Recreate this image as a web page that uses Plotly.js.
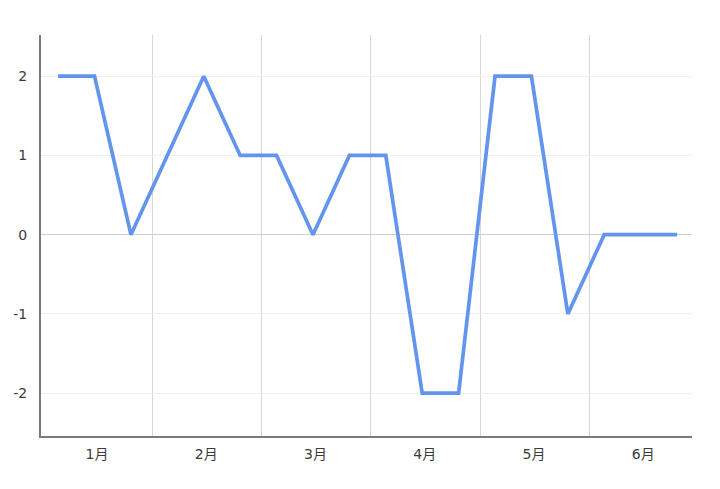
<!DOCTYPE html>
<html>
<head>
<meta charset="utf-8">
<script src="https://cdn.plot.ly/plotly-3.0.1.min.js"></script>
<style>html,body{margin:0;padding:0;background:#fff;}#chart{width:720px;height:489px;}</style>
</head>
<body>
<div id="chart"></div>
<script>
const values = [2, 2, 0, 1, 2, 1, 1, 0, 1, 1, -2, -2, 2, 2, -1, 0, 0, 0];
const monthLabels = ["1月", "2月", "3月", "4月", "5月", "6月"];
const pointsPerMonth = 3;

const xs = values.map((v, i) => i);
const tickPos = monthLabels.map((m, k) => k * pointsPerMonth + 1.07);
const gridPos = monthLabels.slice(1).map((m, k) => (k + 1) * pointsPerMonth - 0.41);

const font = "'DejaVu Sans', 'Noto Sans CJK JP', sans-serif";

Plotly.newPlot("chart", [{
  x: xs,
  y: values,
  type: "scatter",
  mode: "lines",
  line: {color: "rgb(100,149,237)", width: 3.7},
  hoverinfo: "none"
}], {
  width: 720,
  height: 489,
  margin: {l: 41, r: 28, t: 35, b: 53},
  paper_bgcolor: "#fff",
  plot_bgcolor: "#fff",
  showlegend: false,
  font: {family: font, size: 14, color: "#444"},
  xaxis: {
    range: [-0.47, 17.41],
    tickmode: "array",
    tickvals: tickPos,
    ticktext: monthLabels,
    showgrid: false,
    zeroline: false,
    showline: true,
    linecolor: "#7a7a7a",
    linewidth: 2,
    ticks: "outside",
    ticklen: 4,
    tickcolor: "rgba(0,0,0,0)",
    tickfont: {family: font, size: 14, color: "#3a3a3a"},
    minor: {tickmode: "array", tickvals: gridPos, showgrid: true, gridcolor: "#d6d6d6", gridwidth: 1, ticks: ""}
  },
  yaxis: {
    range: [-2.54, 2.52],
    tickmode: "array",
    tickvals: [-2, -1, 0, 1, 2],
    ticktext: ["-2", "-1", "0", "1", "2"],
    showgrid: true,
    gridcolor: "#efefef",
    gridwidth: 1,
    zeroline: true,
    zerolinecolor: "#cfcfcf",
    zerolinewidth: 1,
    showline: true,
    linecolor: "#7a7a7a",
    linewidth: 2,
    ticks: "outside",
    ticklen: 9,
    tickcolor: "rgba(0,0,0,0)",
    tickfont: {family: font, size: 14, color: "#3a3a3a"}
  }
}, {displayModeBar: false, staticPlot: true});
</script>
</body>
</html>
